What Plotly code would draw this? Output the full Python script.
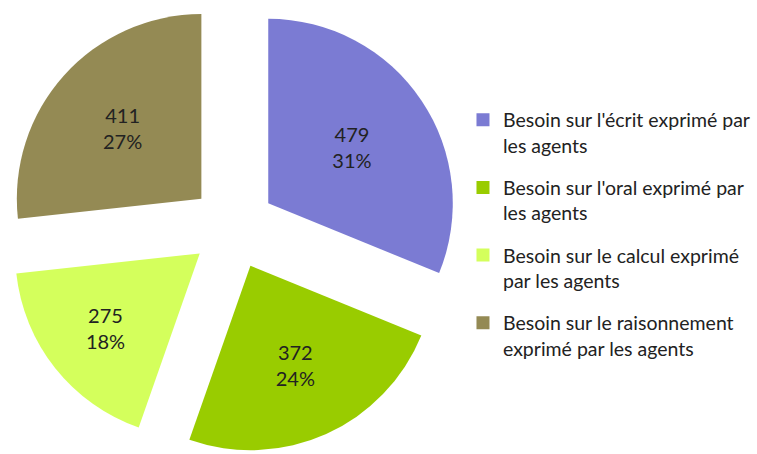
import plotly.graph_objects as go

labels = [
    "Besoin sur l'écrit exprimé par<br>les agents",
    "Besoin sur l'oral exprimé par<br>les agents",
    "Besoin sur le calcul exprimé<br>par les agents",
    "Besoin sur le raisonnement<br>exprimé par les agents",
]
values = [479, 372, 275, 411]
colors = ["#7B7BD3", "#99CC00", "#D4FF5C", "#948A54"]

fig = go.Figure()
fig.add_trace(go.Pie(
    labels=labels,
    values=values,
    sort=False,
    direction="clockwise",
    rotation=0,
    pull=[0.23] * 4,
    marker=dict(colors=colors, line=dict(width=0)),
    texttemplate="%{value}<br>%{percent:.0%}",
    textposition="inside",
    insidetextorientation="horizontal",
    textfont=dict(family="Lato", size=20, color="#222222"),
    hoverinfo="label+value+percent",
    showlegend=False,
    domain=dict(x=[0, 466 / 757], y=[0, 1]),
))

# legend entries (one per slice, same labels and colours)
for i, (lab, col) in enumerate(zip(labels, colors)):
    fig.add_trace(go.Scatter(
        x=[None], y=[None], mode="markers", name=lab,
        marker=dict(symbol="square", size=13, color=col, line=dict(width=0)),
        legendgroup=f"g{i}", showlegend=True, hoverinfo="skip",
    ))

fig.update_layout(
    width=757,
    height=454,
    margin=dict(l=0, r=0, t=0, b=0),
    paper_bgcolor="white",
    plot_bgcolor="white",
    xaxis=dict(visible=False),
    yaxis=dict(visible=False),
    showlegend=True,
    legend=dict(
        x=0.6116, y=0.7786, xanchor="left", yanchor="top",
        valign="top",
        tracegroupgap=14,
        font=dict(family="Lato", size=19.5, color="#222222"),
        bgcolor="rgba(0,0,0,0)",
    ),
)

fig.write_html("out.html", config={"displayModeBar": False},
               post_script="document.body.style.margin='0px';")
